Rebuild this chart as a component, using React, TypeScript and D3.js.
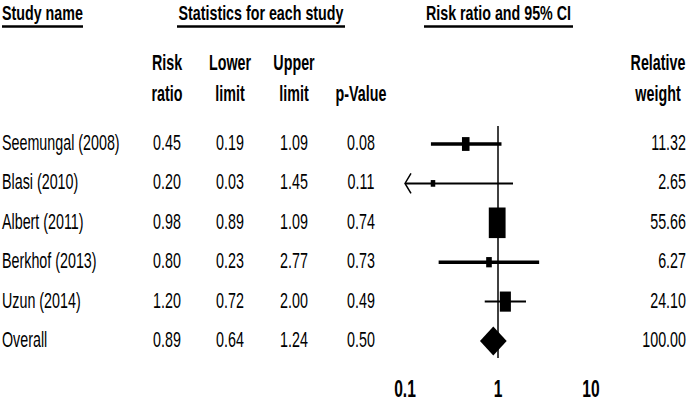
import React from "react";
import * as d3 from "d3";

const studies = ["Seemungal (2008)", "Blasi (2010)", "Albert (2011)", "Berkhof (2013)", "Uzun (2014)", "Overall"];
const riskRatio = [0.45, 0.2, 0.98, 0.8, 1.2, 0.89];
const lowerLimit = [0.19, 0.03, 0.89, 0.23, 0.72, 0.64];
const upperLimit = [1.09, 1.45, 1.09, 2.77, 2.0, 1.24];
const pValue = [0.08, 0.11, 0.74, 0.73, 0.49, 0.5];
const relWeight = [11.32, 2.65, 55.66, 6.27, 24.1, 100.0];
const axisTicks = [0.1, 1, 10];

const W = 687;
const H = 402;
const SX = 0.65;
const FONT = "'Liberation Sans', Arial, sans-serif";
const ciWidth = [3.5, 2, 3, 3.5, 2];

const x = d3.scaleLog().domain([0.1, 10]).range([405, 591]);
const y = d3.scaleLinear().domain([0, studies.length - 1]).range([144, 341]);

function T({ x, y, anchor = "start", bold = false, size = 22, sx = SX, children }: any) {
  return (
    <text
      transform={`translate(${x},${y}) scale(${sx},1)`}
      textAnchor={anchor}
      fontWeight={bold ? "bold" : "normal"}
      fontSize={size}
      fontFamily={FONT}
      fill="#000"
    >
      {children}
    </text>
  );
}

export default function App() {
  const n = studies.length;
  const colX = [167, 230, 294, 361];
  const f = (v: number) => v.toFixed(2);
  return (
    <svg width={W} height={H} style={{ position: "absolute", left: 0, top: 0, background: "#fff" }}>
      <rect width={W} height={H} fill="#fff" />
      {/* group headers */}
      <T x={2} y={20} bold size={21} sx={0.68}>Study name</T>
      <line x1={2} x2={83} y1={26.5} y2={26.5} stroke="#000" strokeWidth={2.5} />
      <T x={261} y={20} bold anchor="middle" size={21} sx={0.68}>Statistics for each study</T>
      <line x1={177} x2={345} y1={26.5} y2={26.5} stroke="#000" strokeWidth={2.5} />
      <T x={498.5} y={20} bold anchor="middle" size={21} sx={0.68}>Risk ratio and 95% CI</T>
      <line x1={424} x2={573} y1={26.5} y2={26.5} stroke="#000" strokeWidth={2.5} />

      {/* column headers */}
      <T x={colX[0]} y={70} bold anchor="middle">Risk</T>
      <T x={colX[0]} y={101} bold anchor="middle">ratio</T>
      <T x={colX[1]} y={70} bold anchor="middle">Lower</T>
      <T x={colX[1]} y={101} bold anchor="middle">limit</T>
      <T x={colX[2]} y={70} bold anchor="middle">Upper</T>
      <T x={colX[2]} y={101} bold anchor="middle">limit</T>
      <T x={colX[3]} y={101} bold anchor="middle">p-Value</T>
      <T x={658} y={70} bold anchor="middle">Relative</T>
      <T x={658} y={101} bold anchor="middle">weight</T>

      {/* rows */}
      {studies.map((s, i) => {
        const yy = y(i) + 6;
        return (
          <g key={s}>
            <T x={2} y={yy}>{s}</T>
            <T x={colX[0]} y={yy} anchor="middle">{f(riskRatio[i])}</T>
            <T x={colX[1]} y={yy} anchor="middle">{f(lowerLimit[i])}</T>
            <T x={colX[2]} y={yy} anchor="middle">{f(upperLimit[i])}</T>
            <T x={colX[3]} y={yy} anchor="middle">{f(pValue[i])}</T>
            <T x={686} y={yy} anchor="end">{f(relWeight[i])}</T>
          </g>
        );
      })}

      {/* null line */}
      <line x1={x(1)} x2={x(1)} y1={126} y2={358} stroke="#000" strokeWidth={1.5} />

      {/* study marks */}
      {studies.slice(0, n - 1).map((s, i) => {
        const cy = y(i);
        const lo = lowerLimit[i];
        const clipped = lo < 0.1;
        const x0 = x(Math.max(lo, 0.1));
        const x1 = x(Math.min(upperLimit[i], 10));
        const bw = Math.max(4.5, 2.25 * Math.sqrt(relWeight[i]));
        const bh = Math.max(6.5, 4.1 * Math.sqrt(relWeight[i]));
        const cx = x(riskRatio[i]);
        return (
          <g key={s}>
            <line x1={x0} x2={x1} y1={cy} y2={cy} stroke="#000" strokeWidth={ciWidth[i]} />
            {clipped && (
              <polyline
                points={`${x0 + 6},${cy - 10} ${x0},${cy} ${x0 + 6},${cy + 10}`}
                fill="none"
                stroke="#000"
                strokeWidth={1.5}
              />
            )}
            <rect x={cx - bw / 2} y={cy - bh / 2} width={bw} height={bh} fill="#000" />
          </g>
        );
      })}

      {/* overall diamond */}
      {(() => {
        const i = n - 1;
        const cy = y(i);
        const pts = [
          [x(lowerLimit[i]), cy],
          [x(riskRatio[i]), cy - 14.5],
          [x(upperLimit[i]), cy],
          [x(riskRatio[i]), cy + 14.5],
        ];
        return <polygon points={pts.map((p) => p.join(",")).join(" ")} fill="#000" />;
      })()}

      {/* axis labels */}
      {axisTicks.map((t) => (
        <T key={t} x={x(t)} y={397} bold anchor="middle" size={24}>
          {String(t)}
        </T>
      ))}
    </svg>
  );
}
